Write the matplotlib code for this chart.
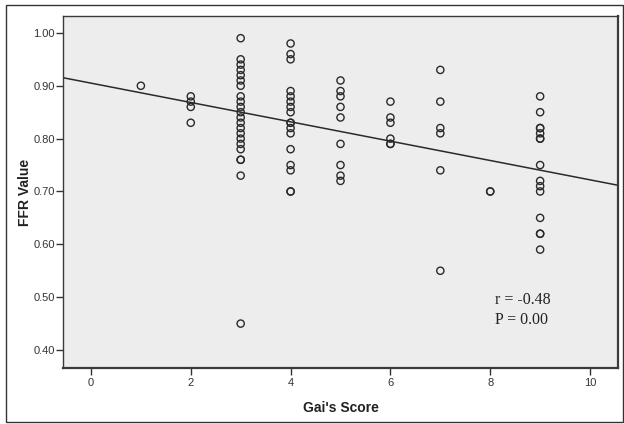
import matplotlib
matplotlib.use("Agg")
import matplotlib.pyplot as plt
import matplotlib.patches as mpatches
import numpy as np

# Data (Gai's score -> FFR values)
score_1 = [0.90]
score_2 = [0.88, 0.87, 0.86, 0.83]
score_3 = [0.99, 0.95, 0.94, 0.93, 0.92, 0.91, 0.90, 0.88, 0.87, 0.86, 0.85,
           0.84, 0.83, 0.82, 0.81, 0.80, 0.79, 0.78, 0.76, 0.76, 0.73, 0.45]
score_4 = [0.98, 0.96, 0.95, 0.89, 0.88, 0.87, 0.86, 0.85, 0.83, 0.83, 0.82,
           0.81, 0.78, 0.75, 0.74, 0.70, 0.70]
score_5 = [0.91, 0.89, 0.88, 0.86, 0.84, 0.79, 0.75, 0.73, 0.72]
score_6 = [0.87, 0.84, 0.83, 0.80, 0.79, 0.79]
score_7 = [0.93, 0.87, 0.82, 0.81, 0.74, 0.55]
score_8 = [0.70, 0.70]
score_9 = [0.88, 0.85, 0.82, 0.82, 0.81, 0.80, 0.80, 0.75, 0.72, 0.71, 0.70,
           0.65, 0.62, 0.62, 0.59]

groups = {1: score_1, 2: score_2, 3: score_3, 4: score_4, 5: score_5,
          6: score_6, 7: score_7, 8: score_8, 9: score_9}

# fit line as drawn in the chart
fit_intercept = 0.905
fit_slope = -0.0183

x_ticks = [0, 2, 4, 6, 8, 10]
y_ticks = [0.40, 0.50, 0.60, 0.70, 0.80, 0.90, 1.00]
annot_lines = ["r = -0.48", "P = 0.00"]

xs = np.concatenate([[k] * len(v) for k, v in groups.items()]).astype(float)
ys = np.concatenate([v for v in groups.values()])

fig = plt.figure(figsize=(6.24, 4.24), dpi=100)
fig.patch.set_facecolor("white")

# outer frame
frame = mpatches.Rectangle((6 / 624, 2 / 424), 617 / 624, 417 / 424,
                           transform=fig.transFigure, fill=False,
                           edgecolor="#333333", linewidth=1.0)
fig.patches.append(frame)

ax = fig.add_axes([63 / 624, 56 / 424, 555 / 624, 352 / 424])
ax.set_facecolor("#ededed")

xmin, xmax = -0.56, 10.56
ymin, ymax = 0.366, 1.032

lx = np.array([xmin, xmax])
ax.plot(lx, fit_intercept + fit_slope * lx, color="#2a2a2a", linewidth=1.1,
        zorder=2)

ax.scatter(xs, ys, s=27, facecolors="none", edgecolors="#2a2a2a",
           linewidths=1.0, zorder=3)

ax.set_xlim(xmin, xmax)
ax.set_ylim(ymin, ymax)
ax.set_xticks(x_ticks)
ax.set_xticklabels([str(t) for t in x_ticks])
ax.set_yticks(y_ticks)
ax.set_yticklabels([f"{t:.2f}" for t in y_ticks])

for lab in ax.get_xticklabels() + ax.get_yticklabels():
    lab.set_fontfamily("Liberation Sans")
    lab.set_fontsize(8)
    lab.set_color("#333333")
ax.tick_params(axis="both", direction="out", length=5, width=1.0,
               color="#333333")
ax.tick_params(axis="y", pad=1)
ax.tick_params(axis="x", pad=2)

for side in ["left", "bottom", "right", "top"]:
    ax.spines[side].set_color("#3a3a3a")
    ax.spines[side].set_linewidth(1.0)
ax.spines["right"].set_linewidth(1.6)
ax.spines["bottom"].set_linewidth(1.6)

ax.set_xlabel("Gai's Score", fontfamily="Liberation Sans", fontsize=10,
              fontweight="bold", color="#222222")
ax.set_ylabel("FFR Value", fontfamily="Liberation Sans", fontsize=10,
              fontweight="bold", color="#222222")
ax.xaxis.set_label_coords(0.5, -0.094)
ax.yaxis.set_label_coords(-0.056, 0.5)

ax.text(8.10, 0.494, annot_lines[0], fontfamily="Liberation Serif",
        fontsize=11.5, color="#222222", ha="left", va="center")
ax.text(8.10, 0.456, annot_lines[1], fontfamily="Liberation Serif",
        fontsize=11.5, color="#222222", ha="left", va="center")

fig.savefig("out.png", dpi=100)
